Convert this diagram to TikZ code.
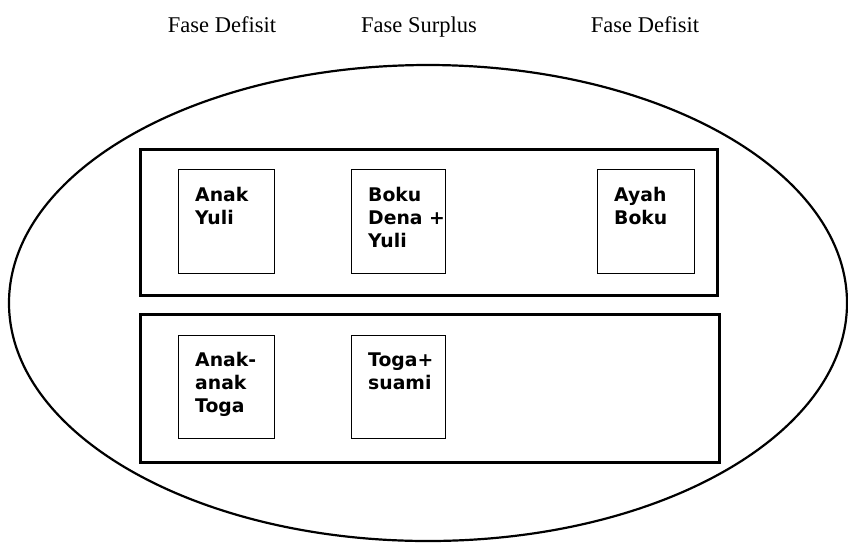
\documentclass[tikz,border=0pt]{standalone}
\usepackage{fontspec}
\setmainfont{Liberation Serif}
\newfontfamily\boxfont{DejaVu Sans}
\usetikzlibrary{shapes.geometric}
% fixed first-line height so every label starts at the same baseline
\newcommand{\firstline}{\rule{0pt}{15pt}}
\begin{document}
\begin{tikzpicture}[x=1pt,y=1pt,
  phase/.style={anchor=base,inner sep=0pt,font=\fontsize{22.5}{26}\selectfont},
  group/.style={draw,line width=3pt,anchor=north west,inner sep=0pt},
  member/.style={draw,line width=1.3pt,anchor=north west,inner sep=0pt,
    minimum width=96pt,minimum height=104pt},
  label/.style={anchor=north west,inner sep=0pt,align=left,
    font=\boxfont\bfseries\fontsize{18.8}{23}\selectfont}]
\useasboundingbox (0,0) rectangle (848,-542);

% phase headings
\node[phase] (h1) at (222,-32) {Fase Defisit};
\node[phase] (h2) at (419,-32) {Fase Surplus};
\node[phase] (h3) at (645,-32) {Fase Defisit};

% enclosing ellipse
\node[ellipse,draw,line width=2.2pt,inner sep=0pt,
  minimum width=838pt,minimum height=476pt] (whole) at (428,-303) {};

% upper group
\node[group,minimum width=577pt,minimum height=146pt] (upper) at (139,-148) {};
\node[member] (b1) at (178,-169) {};
\node[member,minimum width=94pt] (b2) at (351,-169) {};
\node[member,minimum width=97pt] (b3) at (597,-169) {};
\node[label] (t1) at (195,-186) {\firstline Anak\\Yuli};
\node[label] (t2) at (368,-186) {\firstline Boku\\Dena +\\Yuli};
\node[label] (t3) at (614,-186) {\firstline Ayah\\Boku};

% lower group
\node[group,minimum width=579pt,minimum height=148pt] (lower) at (139,-313) {};
\node[member,minimum height=103pt] (b4) at (178,-335) {};
\node[member,minimum width=94pt,minimum height=103pt] (b5) at (351,-335) {};
\node[label] (t4) at (195,-351) {\firstline Anak-\\anak\\Toga};
\node[label] (t5) at (368,-351) {\firstline Toga+\\suami};
\end{tikzpicture}
\end{document}
